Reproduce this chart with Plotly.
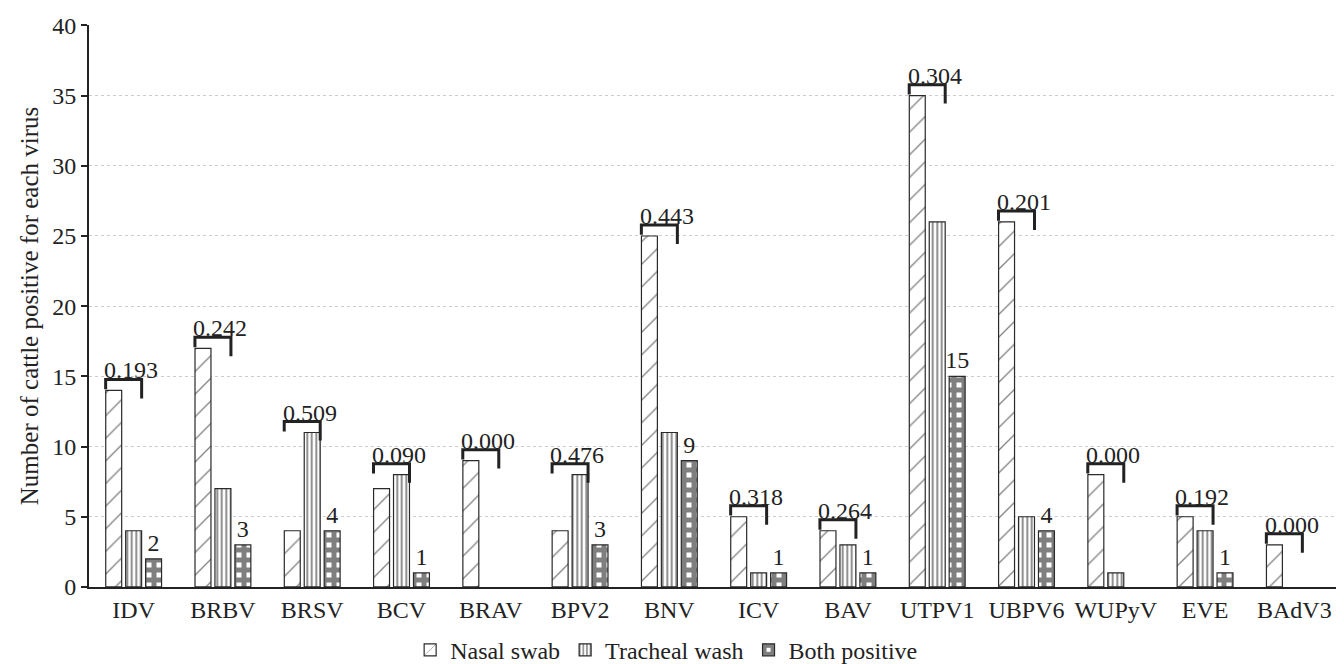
import plotly.graph_objects as go

viruses = ["IDV", "BRBV", "BRSV", "BCV", "BRAV", "BPV2", "BNV", "ICV", "BAV",
           "UTPV1", "UBPV6", "WUPyV", "EVE", "BAdV3"]
nasal = [14, 17, 4, 7, 9, 4, 25, 5, 4, 35, 26, 8, 5, 3]
tracheal = [4, 7, 11, 8, 0, 8, 11, 1, 3, 26, 5, 1, 4, 0]
both = [2, 3, 4, 1, 0, 3, 9, 1, 1, 15, 4, 0, 1, 0]
pvals = ["0.193", "0.242", "0.509", "0.090", "0.000", "0.476", "0.443", "0.318",
         "0.264", "0.304", "0.201", "0.000", "0.192", "0.000"]

FONT = "Liberation Serif"
TXT = "#222222"
idx = list(range(len(viruses)))


def nz(vals):
    return [v if v else None for v in vals]


fig = go.Figure()
line_style = dict(color="#2a2a2a", width=1.2)
fig.add_trace(go.Bar(
    x=idx, y=nz(nasal), name="Nasal swab",
    marker=dict(color="white", line=line_style,
                pattern=dict(shape="/", fgcolor="#000000", bgcolor="white",
                             size=16, solidity=0.08)),
))
fig.add_trace(go.Bar(
    x=idx, y=nz(tracheal), name="Tracheal wash",
    marker=dict(color="white", line=line_style,
                pattern=dict(shape="|", fgcolor="#000000", bgcolor="white",
                             size=4.5, solidity=0.4)),
))
fig.add_trace(go.Bar(
    x=idx, y=nz(both), name="Both positive",
    marker=dict(color="white", line=line_style,
                pattern=dict(shape="+", fgcolor="#000000", bgcolor="white",
                             size=10, solidity=0.75)),
    text=[str(v) if v > 0 else "" for v in both],
    textposition="outside", cliponaxis=False, constraintext="none",
    textfont=dict(family=FONT, size=24, color=TXT),
))

# significance brackets between nasal swab and tracheal wash bars
cat_px = 89.3
left_off = -(20 + 8) / cat_px
right_off = 8 / cat_px
for i, (n, t, p) in enumerate(zip(nasal, tracheal, pvals)):
    top = max(n, t) + 0.78
    xl, xr = i + left_off, i + right_off
    fig.add_shape(type="path",
                  path=f"M {xl} {top-0.7} L {xl} {top} L {xr} {top} L {xr} {top-1.35}",
                  xref="x", yref="y", line=dict(color="#222222", width=3))
    fig.add_annotation(x=i - 0.03, y=top, text=p, showarrow=False,
                       yanchor="bottom", xanchor="center", yshift=-6,
                       font=dict(family=FONT, size=24, color=TXT))

# The page body has an 8px margin, so the figure is sized and offset accordingly
fig.update_layout(
    width=1336, height=656,
    margin=dict(l=81, r=5, t=10, b=77),
    plot_bgcolor="white", paper_bgcolor="white",
    barmode="group", bargap=0.33, bargroupgap=0.2,
    font=dict(family=FONT, size=24, color=TXT),
    showlegend=True,
    legend=dict(orientation="h", xref="container", yref="container",
                x=0.493, y=0.021, xanchor="center", yanchor="middle",
                font=dict(family=FONT, size=24, color=TXT),
                itemwidth=30, tracegroupgap=0),
    xaxis=dict(range=[-0.5, 13.5], tickmode="array", tickvals=idx, ticktext=viruses,
               showline=True, linecolor="#222222", linewidth=2,
               ticks="", showgrid=False, zeroline=False,
               tickfont=dict(family=FONT, size=24, color=TXT)),
    yaxis=dict(range=[0, 40.03], tickmode="array", tickvals=[0, 5, 10, 15, 20, 25, 30, 35, 40],
               showline=True, linecolor="#222222", linewidth=2,
               ticks="outside", ticklen=6, tickcolor="#222222", tickwidth=2,
               ticklabeloverflow="allow",
               showgrid=True, gridcolor="#cccccc", griddash="dot", gridwidth=1,
               zeroline=False,
               tickfont=dict(family=FONT, size=24, color=TXT),
               title=dict(text="Number of cattle positive for each virus",
                          font=dict(family=FONT, size=25, color=TXT),
                          standoff=6)),
)

fig.write_html("out.html")
